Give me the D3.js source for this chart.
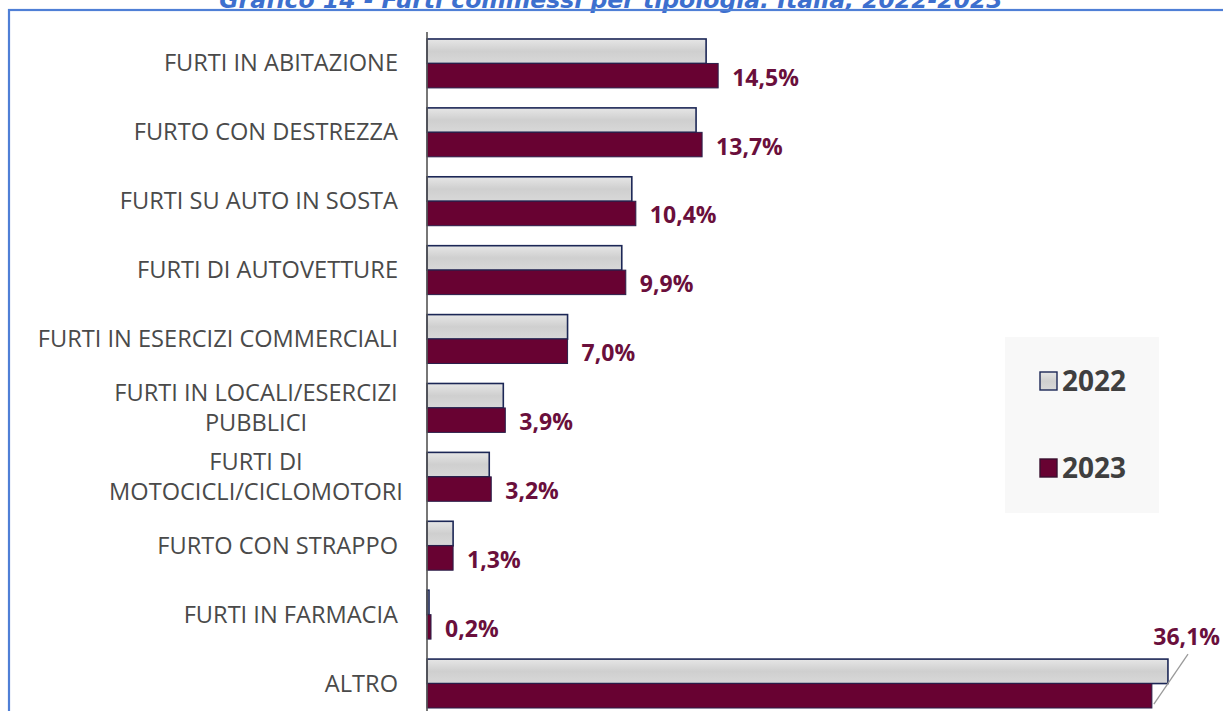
<!DOCTYPE html>
<html><head><meta charset="utf-8">
<script src="https://cdn.jsdelivr.net/npm/d3@7"></script>
<style>body{margin:0;background:#fff;overflow:hidden}</style>
</head><body>
<svg id="c" width="1223" height="711"></svg>
<script>
const categories = ["FURTI IN ABITAZIONE","FURTO CON DESTREZZA","FURTI SU AUTO IN SOSTA","FURTI DI AUTOVETTURE","FURTI IN ESERCIZI COMMERCIALI","FURTI IN LOCALI/ESERCIZI PUBBLICI","FURTI DI MOTOCICLI/CICLOMOTORI","FURTO CON STRAPPO","FURTI IN FARMACIA","ALTRO"];
const labelLines = [["FURTI IN ABITAZIONE"],["FURTO CON DESTREZZA"],["FURTI SU AUTO IN SOSTA"],["FURTI DI AUTOVETTURE"],["FURTI IN ESERCIZI COMMERCIALI"],["FURTI IN LOCALI/ESERCIZI","PUBBLICI"],["FURTI DI","MOTOCICLI/CICLOMOTORI"],["FURTO CON STRAPPO"],["FURTI IN FARMACIA"],["ALTRO"]];
const values2022 = [13.9,13.4,10.2,9.7,7.0,3.8,3.1,1.3,0.1,36.9];
const values2023 = [14.5,13.7,10.4,9.9,7.0,3.9,3.2,1.3,0.2,36.1];
const valueLabels = ["14,5%","13,7%","10,4%","9,9%","7,0%","3,9%","3,2%","1,3%","0,2%","36,1%"];
const seriesNames = ["2022","2023"];
const title = "Grafico 14 - Furti commessi per tipologia. Italia, 2022-2023";

const svg = d3.select("#c");
const defs = svg.append("defs");
const g1 = defs.append("linearGradient").attr("id","g22").attr("x1",0).attr("y1",0).attr("x2",0).attr("y2",1);
g1.append("stop").attr("offset","0%").attr("stop-color","#e6e6e6");
g1.append("stop").attr("offset","50%").attr("stop-color","#cfcfcf");
g1.append("stop").attr("offset","100%").attr("stop-color","#d8d8d8");

// title (cut off at top, as in the reference)
svg.append("text").attr("x",611).attr("y",8).attr("text-anchor","middle")
  .attr("font-family","DejaVu Sans").attr("font-weight","bold").attr("font-style","italic")
  .attr("font-size",23.5).attr("fill","#3d6fce").text(title);

// border
svg.append("rect").attr("x",9).attr("y",10).attr("width",1230).attr("height",720)
  .attr("fill","none").attr("stroke","#4f7fd6").attr("stroke-width",2.2);

const x = d3.scaleLinear().domain([0,37.5]).range([427,427+37.5*20.08]);
const y = d3.scaleBand().domain(categories).range([29,718]).paddingInner(0.29).paddingOuter(0.145);
const bh = y.bandwidth()/2;

// bars
const grp = svg.append("g");
categories.forEach((c,i)=>{
  grp.append("rect").attr("x",x(0)).attr("y",y(c)).attr("width",x(values2022[i])-x(0)).attr("height",bh)
    .attr("fill","url(#g22)").attr("stroke","#1c2756").attr("stroke-width",1.6);
  grp.append("rect").attr("x",x(0)).attr("y",y(c)+bh).attr("width",x(values2023[i])-x(0)).attr("height",bh)
    .attr("fill","#680232").attr("stroke","#2a1f4a").attr("stroke-width",1);
});

// axis line
svg.append("line").attr("x1",x(0)).attr("x2",x(0)).attr("y1",32).attr("y2",711)
  .attr("stroke","#555").attr("stroke-width",1.6);

// category labels
categories.forEach((c,i)=>{
  const lines = labelLines[i];
  const cy = y(c)+y.bandwidth()/2;
  const lh = 30.5;
  const t = svg.append("text").attr("text-anchor", lines.length>1?"middle":"end")
    .attr("font-family","Open Sans").attr("font-size",23.6).attr("fill","#4a4a4a");
  lines.forEach((l,k)=>{
    const yy = cy + (k-(lines.length-1)/2)*lh + 8;
    t.append("tspan").attr("x", lines.length>1?256:398).attr("y",yy).text(l);
  });
});

// value labels
categories.forEach((c,i)=>{
  if(i===categories.length-1) return;
  svg.append("text").attr("x",x(values2023[i])+14).attr("y",y(c)+bh*1.5+10)
    .attr("font-family","Open Sans").attr("font-weight","bold").attr("font-size",23)
    .attr("fill","#6a0f3c").text(valueLabels[i]);
});
// ALTRO label with leader
{
  const i = categories.length-1, c = categories[i];
  svg.append("text").attr("x",1220).attr("y",y(c)-14).attr("text-anchor","end")
    .attr("font-family","Open Sans").attr("font-weight","bold").attr("font-size",23)
    .attr("fill","#6a0f3c").text(valueLabels[i]);
  svg.append("line").attr("x1",1188).attr("y1",y(c)-5).attr("x2",x(values2023[i])+2).attr("y2",y(c)+bh*2-4)
    .attr("stroke","#9a9a9a").attr("stroke-width",1.3);
}

// legend
svg.append("rect").attr("x",1005).attr("y",337).attr("width",154).attr("height",176).attr("fill","#f8f8f8");
const leg = [{n:seriesNames[0],y:381,fill:"url(#g22)",stroke:"#1c2756"},{n:seriesNames[1],y:468,fill:"#680232",stroke:"#3a1030"}];
leg.forEach(l=>{
  svg.append("rect").attr("x",1040).attr("y",l.y-9).attr("width",17).attr("height",18)
    .attr("fill",l.fill).attr("stroke",l.stroke).attr("stroke-width",1.4);
  svg.append("text").attr("x",1062).attr("y",l.y+10).attr("font-family","Open Sans").attr("font-weight","bold")
    .attr("font-size",28).attr("fill","#3f3f3f").text(l.n);
});
</script>
</body></html>
